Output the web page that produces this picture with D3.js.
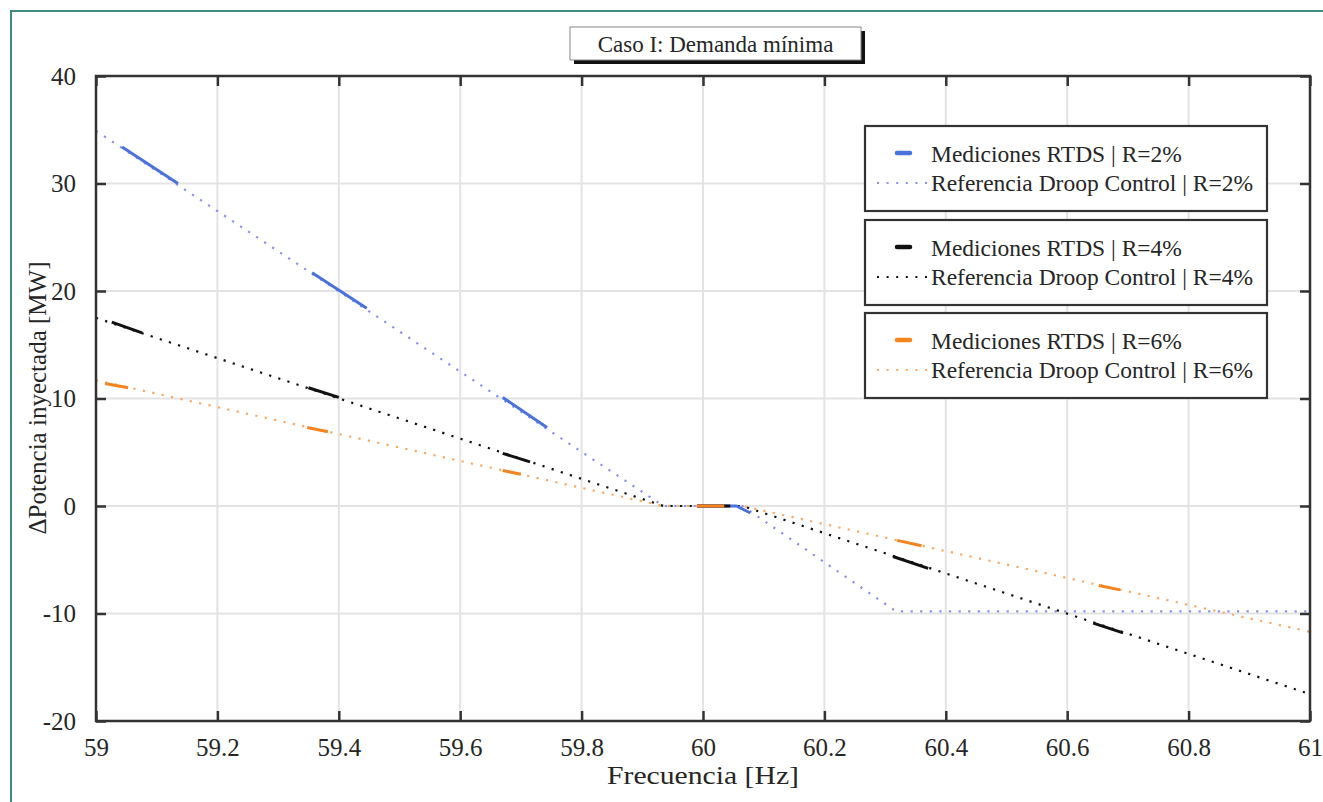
<!DOCTYPE html>
<html>
<head>
<meta charset="utf-8">
<script src="https://cdn.jsdelivr.net/npm/d3@7"></script>
<style>
  html, body { margin: 0; padding: 0; background: #ffffff; }
  svg { display: block; }
  text { font-family: "Liberation Serif", "Times New Roman", serif; fill: #262626; }
</style>
</head>
<body>
<svg id="chart" width="1323" height="802"></svg>
<script>
// Frequency range and tick values
const xTicks = [59, 59.2, 59.4, 59.6, 59.8, 60, 60.2, 60.4, 60.6, 60.8, 61];
const yTicks = [-20, -10, 0, 10, 20, 30, 40];

// Droop-control reference curves [frequency Hz, ΔP MW]
const refR2 = [[59, 34.9], [59.935, 0], [60.065, 0], [60.318, -9.8], [61, -9.8]];
const refR4 = [[59, 17.5], [59.935, 0], [60.065, 0], [61, -17.5]];
const refR6 = [[59, 11.7], [59.935, 0], [60.065, 0], [61, -11.7]];

// RTDS measurement segments [frequency Hz, ΔP MW]
const medR2 = [
  [[59.043, 33.4], [59.135, 30.0]],
  [[59.356, 21.7], [59.446, 18.4]],
  [[59.670, 10.1], [59.743, 7.3]],
  [[59.99, 0], [60.055, 0], [60.078, -0.65]]
];
const medR4 = [
  [[59.026, 17.1], [59.076, 16.1]],
  [[59.350, 11.0], [59.400, 10.1]],
  [[59.670, 4.9], [59.715, 4.1]],
  [[59.99, 0], [60.045, 0]],
  [[60.313, -4.7], [60.371, -5.8]],
  [[60.643, -10.9], [60.692, -11.8]]
];
const medR6 = [
  [[59.015, 11.4], [59.053, 11.0]],
  [[59.348, 7.3], [59.382, 6.9]],
  [[59.670, 3.3], [59.700, 2.95]],
  [[59.99, 0], [60.035, 0]],
  [[60.320, -3.2], [60.360, -3.7]],
  [[60.652, -7.4], [60.687, -7.8]]
];

const titleText = "Caso I: Demanda mínima";
const xLabel = "Frecuencia [Hz]";
const yLabel = "ΔPotencia inyectada [MW]";

const series = [
  { med: medR2, ref: refR2, solid: "#4a72dc", dotted: "#8b90ea",
    medName: "Mediciones RTDS | R=2%", refName: "Referencia Droop Control | R=2%" },
  { med: medR4, ref: refR4, solid: "#111111", dotted: "#111111",
    medName: "Mediciones RTDS | R=4%", refName: "Referencia Droop Control | R=4%" },
  { med: medR6, ref: refR6, solid: "#f5841f", dotted: "#f6a964",
    medName: "Mediciones RTDS | R=6%", refName: "Referencia Droop Control | R=6%" }
];

const SERIF = '"Liberation Serif", "Times New Roman", serif';
const svg = d3.select("#chart");
const W = 1323, H = 802;
const m = { left: 96, right: 1310, top: 76, bottom: 721 };

// outer frame
svg.append("path")
  .attr("d", `M11,${H} L11,11 L${W},11`)
  .attr("fill", "none").attr("stroke", "#3f8c80").attr("stroke-width", 2);

const x = d3.scaleLinear().domain([59, 61]).range([m.left, m.right]);
const y = d3.scaleLinear().domain([-20, 40]).range([m.bottom, m.top]);

// grid
const grid = svg.append("g");
grid.selectAll(".gx").data(xTicks.slice(1, -1)).join("line")
  .attr("x1", d => x(d)).attr("x2", d => x(d))
  .attr("y1", m.top).attr("y2", m.bottom)
  .attr("stroke", "#e3e3e3").attr("stroke-width", 2);
grid.selectAll(".gy").data(yTicks.slice(1, -1)).join("line")
  .attr("x1", m.left).attr("x2", m.right)
  .attr("y1", d => y(d)).attr("y2", d => y(d))
  .attr("stroke", "#e3e3e3").attr("stroke-width", 2);

const line = d3.line().x(d => x(d[0])).y(d => y(d[1]));
const plot = svg.append("g");

// reference curves (dotted) then measurements (solid)
series.forEach(s => {
  plot.append("path").attr("d", line(s.ref))
    .attr("fill", "none").attr("stroke", s.dotted)
    .attr("stroke-width", 2.2).attr("stroke-dasharray", "2.2 7.4")
    .attr("stroke-linecap", "butt");
});
series.forEach(s => {
  s.med.forEach(seg => {
    plot.append("path").attr("d", line(seg))
      .attr("fill", "none").attr("stroke", s.solid)
      .attr("stroke-width", 3).attr("stroke-linejoin", "round");
  });
});

// axes with inward ticks on all sides
const tickLen = 10;
const axG = svg.append("g");
function styleAxis(g, labels) {
  g.select(".domain").remove();
  g.selectAll(".tick line").attr("stroke", "#333").attr("stroke-width", 2.5);
  if (labels) {
    g.selectAll(".tick text")
      .style("font-family", SERIF).style("font-size", "25px").style("fill", "#262626");
  } else {
    g.selectAll(".tick text").remove();
  }
}
styleAxis(axG.append("g").attr("transform", `translate(0,${m.bottom})`)
  .call(d3.axisBottom(x).tickValues(xTicks).tickFormat(d3.format("~g"))
    .tickSizeInner(-tickLen).tickSizeOuter(0).tickPadding(17)), true);
styleAxis(axG.append("g").attr("transform", `translate(0,${m.top})`)
  .call(d3.axisTop(x).tickValues(xTicks).tickSizeInner(-tickLen).tickSizeOuter(0)), false);
styleAxis(axG.append("g").attr("transform", `translate(${m.left},0)`)
  .call(d3.axisLeft(y).tickValues(yTicks).tickFormat(d => d < 0 ? "-" + Math.abs(d) : String(d))
    .tickSizeInner(-tickLen).tickSizeOuter(0).tickPadding(20)), true);
styleAxis(axG.append("g").attr("transform", `translate(${m.right},0)`)
  .call(d3.axisRight(y).tickValues(yTicks).tickSizeInner(-tickLen).tickSizeOuter(0)), false);

// axes box
axG.append("rect")
  .attr("x", m.left).attr("y", m.top)
  .attr("width", m.right - m.left).attr("height", m.bottom - m.top)
  .attr("fill", "none").attr("stroke", "#333").attr("stroke-width", 2.5);

// axis titles
svg.append("text").attr("x", (m.left + m.right) / 2).attr("y", 784)
  .attr("text-anchor", "middle").attr("font-size", 26).attr("fill", "#444")
  .attr("textLength", 192).attr("lengthAdjust", "spacingAndGlyphs")
  .text(xLabel);
svg.append("text")
  .attr("transform", `translate(46,${398}) rotate(-90)`)
  .attr("text-anchor", "middle").attr("font-size", 25).attr("fill", "#333")
  .text(yLabel);

// title box with shadow
const tb = { x: 570, y: 27, w: 291, h: 33 };
svg.append("rect").attr("x", tb.x + 4).attr("y", tb.y + 4)
  .attr("width", tb.w).attr("height", tb.h).attr("fill", "#111");
svg.append("rect").attr("x", tb.x).attr("y", tb.y)
  .attr("width", tb.w).attr("height", tb.h)
  .attr("fill", "#fff").attr("stroke", "#888").attr("stroke-width", 1);
svg.append("text").attr("x", tb.x + tb.w / 2).attr("y", tb.y + tb.h / 2 + 8)
  .attr("text-anchor", "middle").attr("font-size", 23).attr("fill", "#111")
  .text(titleText);

// legends: one box per droop setting
const legTop = [126, 220, 313];
series.forEach((s, i) => {
  const g = svg.append("g").attr("transform", `translate(865,${legTop[i]})`);
  g.append("rect").attr("width", 402).attr("height", 85)
    .attr("fill", "#fff").attr("stroke", "#333").attr("stroke-width", 2.2);
  g.append("line").attr("x1", 32).attr("x2", 45).attr("y1", 27).attr("y2", 27)
    .attr("stroke", s.solid).attr("stroke-width", 4.5).attr("stroke-linecap", "round");
  g.append("line").attr("x1", 12).attr("x2", 63).attr("y1", 57).attr("y2", 57)
    .attr("stroke", s.dotted).attr("stroke-width", 2).attr("stroke-dasharray", "2 7.6");
  g.append("text").attr("x", 66).attr("y", 36).attr("font-size", 23.5).attr("fill", "#111")
    .text(s.medName);
  g.append("text").attr("x", 66).attr("y", 65).attr("font-size", 23.5).attr("fill", "#111")
    .text(s.refName);
});
</script>
</body>
</html>
